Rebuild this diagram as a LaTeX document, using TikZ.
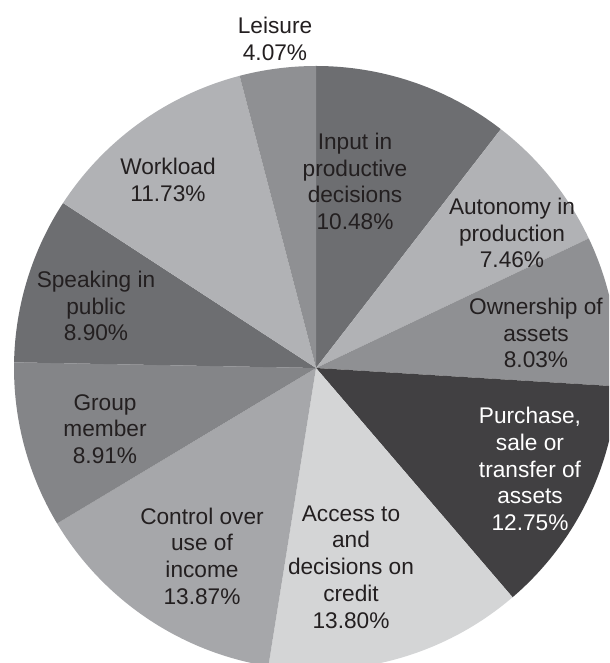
\documentclass[tikz,border=0pt]{standalone}
\usepackage{fontspec}
\setmainfont{Liberation Sans}
\usepackage{tikz}

\definecolor{txtgray}{HTML}{231F20}
\definecolor{darkslice}{HTML}{6D6E71}
\definecolor{lightslice}{HTML}{B1B2B5}
\definecolor{midslice}{HTML}{8F9093}
\definecolor{blackslice}{HTML}{414042}
\definecolor{paleslice}{HTML}{D4D5D6}
\definecolor{controlslice}{HTML}{A6A7AA}
\definecolor{groupslice}{HTML}{848588}

\begin{document}
\begin{tikzpicture}[x=0.02cm, y=0.02cm,
  lbl/.style = {align=center, inner sep=0pt, text=txtgray,
                font=\fontsize{12.9pt}{15.2pt}\selectfont}]
\useasboundingbox (0,0) rectangle (609,663);
\coordinate (c) at (316,295);
\begin{scope}
\clip (0,0) rectangle (609,663);
% slices, clockwise from the top
\foreach \a/\b/\col in {90/52.272/darkslice, 52.272/25.416/lightslice,
    25.416/-3.492/midslice, -3.492/-49.392/blackslice,
    -49.392/-99.072/paleslice, -99.072/-149.004/controlslice,
    -149.004/-181.08/groupslice, -181.08/-213.12/darkslice,
    -213.12/-255.348/lightslice, -255.348/-270/midslice}
  \fill[\col] (c) -- ++(\a:302) arc[start angle=\a, end angle=\b, radius=302] -- cycle;
\end{scope}
\node[lbl] (leisure) at (275,624) {Leisure\\4.07\%};
\node[lbl] (input) at (355,481.5) {Input in\\productive\\decisions\\10.48\%};
\node[lbl] (autonomy) at (512,430) {Autonomy in\\production\\7.46\%};
\node[lbl] (ownership) at (536,330) {Ownership of\\assets\\8.03\%};
\node[lbl, text=white] (purchase) at (530,194) {Purchase,\\sale or\\transfer of\\assets\\12.75\%};
\node[lbl] (access) at (351,96) {Access to\\and\\decisions on\\credit\\13.80\%};
\node[lbl] (control) at (202,107) {Control over\\use of\\income\\13.87\%};
\node[lbl] (group) at (105,234) {Group\\member\\8.91\%};
\node[lbl] (speaking) at (96,357) {Speaking in\\public\\8.90\%};
\node[lbl] (workload) at (168,483) {Workload\\11.73\%};
\end{tikzpicture}
\end{document}
